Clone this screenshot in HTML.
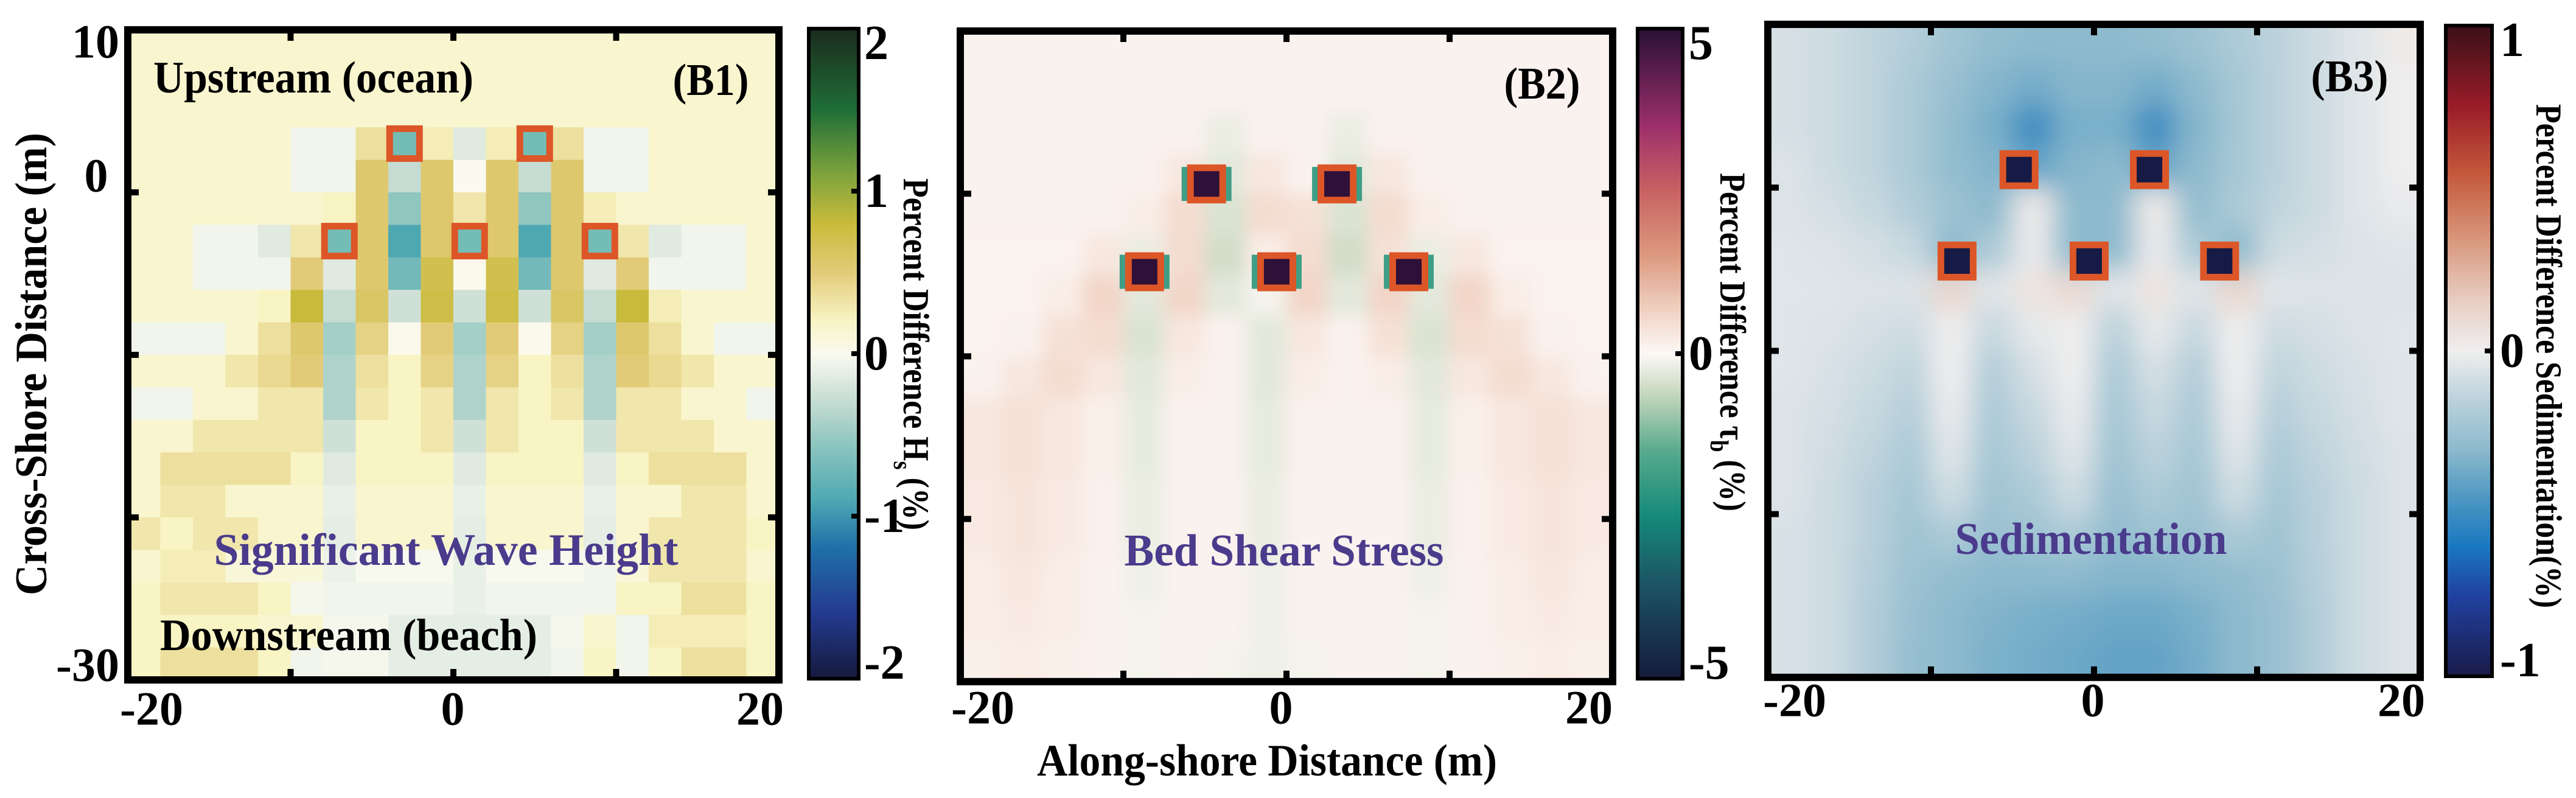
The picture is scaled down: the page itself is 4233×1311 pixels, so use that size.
<!DOCTYPE html>
<html><head><meta charset="utf-8">
<style>
html,body{margin:0;padding:0;background:#fff;}
svg{display:block;}
text{font-family:"Liberation Serif",serif;font-weight:bold;}
</style></head>
<body>
<svg id="fig" width="4233" height="1311" viewBox="0 0 4233 1311" xmlns="http://www.w3.org/2000/svg">
<defs>
<filter id="blur2" x="0" y="0" width="1" height="1"><feGaussianBlur stdDeviation="14"/></filter>
<filter id="blur3" x="0" y="0" width="1" height="1"><feGaussianBlur stdDeviation="22"/></filter>
<clipPath id="clip1"><rect x="210" y="49" width="1070" height="1068"/></clipPath>
<clipPath id="clip2"><rect x="1578" y="51" width="1072" height="1069"/></clipPath>
<clipPath id="clip3"><rect x="2905" y="40" width="1072" height="1073"/></clipPath>
</defs>
<g id="layer"></g>
</svg>
<script>
// ---------- DATA ----------
const xTicks=[-20,0,20];
const yTickLabels1=["10","0","-30"];
// B1 significant wave height % difference, 20x20 (rows y=10 -> -30, cols x=-20 -> 20)
const b1Rows=[
[.15,.15,.15,.15,.15,.15,.15,.15,.15,.15,.15,.15,.15,.15,.15,.15,.15,.15,.15,.15],
[.15,.15,.15,.15,.15,.15,.15,.15,.15,.15,.15,.15,.15,.15,.15,.15,.15,.15,.15,.15],
[.15,.15,.15,.15,.15,.15,.15,.15,.15,.15,.15,.15,.15,.15,.15,.15,.15,.15,.15,.15],
[.15,.15,.15,.15,.15,-.05,-.05,.35,-.6,.25,-.15,.25,-.6,.35,-.05,-.05,.15,.15,.15,.15],
[.15,.15,.15,.15,.15,-.05,-.05,.55,-.3,.55,0,.55,-.3,.55,-.05,-.05,.15,.15,.15,.15],
[.15,.15,.15,.15,.15,.15,.2,.55,-.55,.55,.3,.55,-.55,.55,.25,.15,.15,.15,.15,.15],
[.15,.15,-.05,-.05,-.15,.3,-.5,.55,-.9,.55,-.4,.55,-.9,.55,-.5,.3,-.15,-.05,-.05,.15],
[.15,.15,-.05,-.05,-.05,.5,-.15,.55,-.7,.7,.02,.7,-.7,.55,-.15,.5,-.05,-.05,-.05,.15],
[.15,.15,.15,.15,.2,.8,-.3,.6,-.25,.75,-.25,.75,-.25,.6,-.3,.8,.25,.15,.15,.15],
[-.05,-.05,-.05,.15,.35,.55,-.45,.45,.02,.5,-.45,.5,.02,.45,-.45,.55,.35,.15,-.05,-.05],
[.15,.15,.15,.3,.4,.5,-.4,.35,.2,.45,-.4,.45,.2,.35,-.4,.5,.4,.3,.15,.15],
[-.05,-.05,.15,.15,.3,.3,-.4,.3,.2,.3,-.4,.3,.2,.3,-.4,.3,.3,.15,.15,-.05],
[.15,.15,.3,.3,.3,.3,-.25,.2,.2,.3,-.25,.3,.2,.2,-.25,.3,.3,.3,.15,.15],
[.15,.35,.35,.35,.35,.2,-.15,.2,.2,.2,-.15,.2,.2,.2,-.15,.2,.35,.35,.35,.15],
[.15,.3,.3,.15,.15,.15,-.1,.15,.15,.15,-.1,.15,.15,.15,-.1,.15,.15,.3,.3,.15],
[.3,.2,.3,.3,.15,.15,-.12,.15,.15,.15,-.12,.15,.15,.15,-.12,.15,.3,.3,.3,.2],
[.15,.25,.25,.1,.1,.1,-.08,-.02,-.02,-.02,-.1,-.02,-.02,-.02,-.05,.1,.3,.3,.3,.15],
[.2,.3,.3,.3,.2,-.03,-.05,-.05,-.05,-.05,-.1,-.05,-.05,-.05,-.05,.2,.2,.35,.35,.2],
[.2,.2,.2,.2,.15,.15,-.03,-.03,-.12,-.12,-.12,-.12,-.12,-.03,.15,-.05,.25,.25,.25,.2],
[.2,.35,.35,.35,.2,-.05,-.03,-.03,-.12,-.12,-.12,-.12,-.12,-.05,.2,-.05,.2,.35,.35,.2]
];
// B2 bed shear stress % difference, 16x16 (2.5 m cells)
const b2Rows=[
[.1,.1,.1,.1,.1,.1,.1,.1,.1,.1,.1,.1,.1,.1,.1,.1],
[.1,.1,.1,.1,.1,.1,.1,.1,.1,.1,.1,.1,.1,.1,.1,.1],
[.1,.1,.1,.1,.1,.1,-.2,.1,.1,-.2,.1,.1,.1,.1,.1,.1],
[.1,.1,.1,.1,.1,.3,-.3,.3,.1,-.3,.3,.1,.1,.1,.1,.1],
[.1,.1,.1,.1,.2,.5,-.4,.5,.4,-.4,.5,.2,.1,.1,.1,.1],
[.08,.08,.08,.3,-.2,.5,-.5,.2,.5,-.5,.4,-.2,.3,.08,.08,.08],
[.08,.08,.2,.6,-.3,.6,-.3,-.1,.6,-.3,.6,-.3,.6,.2,.08,.08],
[.08,.1,.4,.5,-.4,.3,.1,-.3,.3,.1,.4,-.4,.5,.4,.1,.08],
[.1,.3,.5,.3,-.3,.2,.1,-.3,.2,.1,.2,-.3,.3,.5,.3,.1],
[.3,.4,.3,.15,-.25,.1,.1,-.25,.1,.1,.1,-.25,.15,.3,.4,.3],
[.3,.4,.3,.15,-.25,.1,.1,-.25,.1,.1,.1,-.25,.15,.3,.4,.3],
[.25,.35,.25,.12,-.2,.1,.1,-.2,.1,.1,.1,-.2,.12,.25,.35,.25],
[.25,.35,.25,.12,-.2,.1,.1,-.2,.1,.1,.1,-.2,.12,.25,.35,.25],
[.2,.3,.2,.1,-.15,.1,.1,-.15,.1,.1,.1,-.15,.1,.2,.3,.2],
[.2,.25,.2,.1,-.1,.1,.1,-.15,.1,.1,.1,-.1,.1,.2,.25,.2],
[.15,.2,.15,.1,-.1,.1,-.1,-.15,-.1,.1,.1,-.1,.1,.15,.2,.15]
];
// B3 sedimentation % difference, 16x16
const b3Rows=[
[-.08,-.1,-.14,-.18,-.24,-.28,-.3,-.3,-.3,-.28,-.25,-.2,-.15,-.1,-.05,.02],
[-.08,-.1,-.14,-.2,-.26,-.32,-.36,-.32,-.32,-.36,-.3,-.22,-.15,-.1,-.05,0],
[-.08,-.1,-.14,-.2,-.28,-.35,-.5,-.35,-.35,-.5,-.32,-.22,-.15,-.1,-.05,0],
[-.06,-.1,-.14,-.2,-.28,-.32,-.4,-.32,-.3,-.4,-.3,-.22,-.15,-.1,-.05,0],
[-.06,-.08,-.12,-.18,-.25,-.3,.02,-.3,-.3,.02,-.28,-.2,-.14,-.1,-.05,-.02],
[-.05,-.06,-.08,-.12,-.3,-.2,-.02,-.3,-.3,-.02,-.2,-.3,-.1,-.08,-.06,-.05],
[-.05,-.05,-.06,-.06,.12,-.05,.05,.1,-.05,.05,-.05,.12,-.05,-.06,-.06,-.06],
[-.05,-.06,-.08,-.1,0,-.12,-.03,0,-.15,-.03,-.12,0,-.1,-.08,-.06,-.05],
[-.05,-.07,-.1,-.14,0,-.18,-.08,0,-.2,-.08,-.18,0,-.14,-.1,-.07,-.05],
[-.06,-.08,-.12,-.17,-.02,-.2,-.12,-.02,-.22,-.12,-.2,-.02,-.17,-.12,-.08,-.05],
[-.06,-.09,-.14,-.2,-.05,-.22,-.15,-.05,-.24,-.15,-.22,-.05,-.2,-.14,-.09,-.06],
[-.06,-.1,-.16,-.22,-.1,-.24,-.2,-.1,-.26,-.2,-.24,-.1,-.22,-.16,-.1,-.06],
[-.07,-.1,-.16,-.24,-.2,-.26,-.24,-.2,-.28,-.25,-.26,-.2,-.24,-.16,-.1,-.06],
[-.07,-.1,-.17,-.25,-.28,-.3,-.3,-.3,-.32,-.32,-.3,-.28,-.25,-.17,-.1,-.06],
[-.07,-.1,-.18,-.26,-.3,-.33,-.35,-.36,-.38,-.38,-.35,-.3,-.26,-.18,-.1,-.06],
[-.07,-.1,-.18,-.27,-.3,-.34,-.36,-.38,-.4,-.4,-.36,-.3,-.26,-.18,-.1,-.06]
];
// structure (marker) positions in metres
const b1MarkX=[-3,5,-7,1,9];
const b1MarkY=[3,3,-3,-3,-3];
const b2MarkX=[-4.9,3.1,-8.7,-0.6,7.5];
const b2MarkY=[0.6,0.6,-4.8,-4.8,-4.8];
const b3MarkX=[-4.6,3.4,-8.4,-0.3,7.7];
const b3MarkY=[1.1,1.1,-4.5,-4.5,-4.5];
const cb1Ticks=[2,1,0,-1,-2];
const cb2Ticks=[5,0,-5];
const cb3Ticks=[1,0,-1];

// ---------- HELPERS ----------
const NS="http://www.w3.org/2000/svg";
const layer=document.getElementById('layer');
function mk(tag,attrs,parent){const e=document.createElementNS(NS,tag);for(const k in attrs)e.setAttribute(k,attrs[k]);(parent||layer).appendChild(e);return e;}
function hex(c){return [parseInt(c.substr(1,2),16),parseInt(c.substr(3,2),16),parseInt(c.substr(5,2),16)];}
function cmap(stops,v){
  if(v<=stops[0][0])return stops[0][1];
  for(let i=1;i<stops.length;i++){
    if(v<=stops[i][0]){const t=(v-stops[i-1][0])/(stops[i][0]-stops[i-1][0]);
      const a=hex(stops[i-1][1]),b=hex(stops[i][1]);
      return 'rgb('+a.map((x,j)=>Math.round(x+(b[j]-x)*t)).join(',')+')';}
  }
  return stops[stops.length-1][1];
}
const cm1=[[-2,'#16193e'],[-1.6,'#243a8e'],[-1.2,'#1f6fa8'],[-0.9,'#4ea8b2'],[-0.55,'#8fc6bf'],[-0.25,'#cfe0d6'],[0,'#fafaf0'],[0.2,'#f8f4c4'],[0.5,'#e2cb78'],[0.8,'#c8bb3c'],[1.1,'#7fa33c'],[1.5,'#1f6e38'],[2,'#1b2a1c']];
const cm2=[[-5,'#151a3c'],[-3.5,'#1c5664'],[-2.5,'#158a7a'],[-1.5,'#58aa8c'],[-0.6,'#c9d8c0'],[0,'#fcf8f5'],[0.6,'#f2d6c8'],[1.5,'#dc9a80'],[2.5,'#c86262'],[3.5,'#9c2f6c'],[5,'#2a1035']];
const cm3=[[-1,'#1a1a4a'],[-0.75,'#2042a0'],[-0.6,'#1a78c0'],[-0.45,'#4f98c2'],[-0.3,'#8dbacd'],[-0.15,'#bcd2dc'],[-0.05,'#dfe5e8'],[0,'#efeeee'],[0.15,'#e8cfc4'],[0.35,'#d79478'],[0.55,'#c3573a'],[0.75,'#9a1c28'],[1,'#3a1018']];

// axis functions
const xs1=v=>210+(v+20)*26.75, ys1=v=>49+(10-v)*26.7;
const xs2=v=>1578+(v+20)*26.8, ys2=v=>51+(10-v)*26.72;
const xs3=v=>2905+(v+20)*26.8, ys3=v=>40+(10-v)*26.82;

function heat(rows,cm,xs,ys,clip,blur,name){
  const g=mk('g',{'clip-path':'url(#'+clip+')'});
  
  
  const inner=mk('g',blur?{filter:'url(#'+blur+')'}:{},g);
  const nr=rows.length,nc=rows[0].length,dx=40/nc,dy=40/nr;
  rows.forEach((row,r)=>row.forEach((v,c)=>{
    const x0=xs(-20+c*dx),x1=xs(-20+(c+1)*dx),y0=ys(10-r*dy),y1=ys(10-(r+1)*dy);
    const pad=blur?((c==0||c==nc-1||r==0||r==nr-1)?40:0):0;
    const cell=mk('rect',{x:x0-(c==0?pad:0),y:y0-(r==0?pad:0),width:x1-x0+(c==0||c==nc-1?pad:0)+0.6,height:y1-y0+(r==0||r==nr-1?pad:0)+0.6,fill:cmap(cm,v)},inner);
    
    
  }));
  return g;
}
function markers(mx,my,xs,ys,size,inner,halo,name){
  mx.forEach((x,i)=>{
    const cx=xs(x),cy=ys(my[i]);
    if(halo){const h=mk('rect',{x:cx-size/2-9,y:cy-size/2+4,width:size+18,height:size-8,fill:halo});
      }
    const m=mk('rect',{x:cx-size/2+5.5,y:cy-size/2+5.5,width:size-11,height:size-11,fill:inner,stroke:'#dc5628','stroke-width':11});
    
    
  });
}
function frame(x0,y0,x1,y1,tx,ty,name){
  const f=mk('rect',{x:x0,y:y0,width:x1-x0,height:y1-y0,fill:'none',stroke:'#000','stroke-width':12});
  
  
  tx.forEach(x=>{mk('rect',{x:x-5,y:y0,width:10,height:18,fill:'#000'});mk('rect',{x:x-5,y:y1-18,width:10,height:18,fill:'#000'});});
  ty.forEach(y=>{mk('rect',{x:x0,y:y-5,width:18,height:10,fill:'#000'});mk('rect',{x:x1-18,y:y-5,width:18,height:10,fill:'#000'});});
}
function txt(s,x,y,opts,name){
  const a={x:x,y:y,'font-size':opts.size||78,'text-anchor':opts.anchor||'middle','dominant-baseline':'central',fill:opts.fill||'#000'};
  if(opts.len){a.textLength=opts.len;a.lengthAdjust='spacingAndGlyphs';}
  if(opts.rot){a.transform='rotate('+opts.rot+' '+x+' '+y+')';}
  const t=mk('text',a);
  if(opts.sub){t.appendChild(document.createTextNode(s[0]));
    const ts=mk('tspan',{'baseline-shift':'sub','font-size':(opts.size||78)*0.7},t);ts.textContent=s[1];
    t.appendChild(document.createTextNode(s[2]));}
  else t.textContent=s;
  
  
  return t;
}
function colorbar(id,cm,x0,x1,y0,y1,vmax,ticks,lx,name){
  const grad=mk('linearGradient',{id:id,x1:0,y1:0,x2:0,y2:1},document.querySelector('defs'));
  for(let i=0;i<=40;i++){const v=vmax-2*vmax*i/40;mk('stop',{offset:(i/40),'stop-color':cmap(cm,v)},grad);}
  const r=mk('rect',{x:x0,y:y0,width:x1-x0,height:y1-y0,fill:'url(#'+id+')',stroke:'#000','stroke-width':6});
  
  
  ticks.forEach(v=>{const y=y0+(vmax-v)/(2*vmax)*(y1-y0);
    if(Math.abs(v)<vmax)mk('rect',{x:x1-12,y:y-4,width:12,height:8,fill:'#000'});
    const yy=Math.min(Math.max(y,y0+24),y1-26);
    txt(String(v),lx,yy,{anchor:'start',size:80},name+'-tick-label');});
}

// ---------- PANEL B1 ----------
heat(b1Rows,cm1,xs1,ys1,'clip1',null,'b1-heatmap');
markers(b1MarkX,b1MarkY,xs1,ys1,60,'#74bdb6',null,'b1-structure');
frame(xs1(-20),ys1(10),xs1(20),ys1(-30),[xs1(-10),xs1(0),xs1(10)],[ys1(0),ys1(-10),ys1(-20)],'b1-frame');
txt('10',196,68,{anchor:'end'},'y-tick-label');
txt('0',158,288,{},'y-tick-label');
txt('-30',196,1092,{anchor:'end'},'y-tick-label');
txt('-20',249,1164,{},'x-tick-label');txt('0',744,1164,{},'x-tick-label');txt('20',1249,1164,{},'x-tick-label');
txt('Cross-Shore Distance (m)',52,598,{rot:-90,len:760,size:74},'y-axis-title');
txt('Upstream (ocean)',252,128,{anchor:'start',len:526,size:74},'upstream-label');
txt('(B1)',1168,132,{len:125,size:74},'panel-label-b1');
txt('Significant Wave Height',733,904,{len:763,size:74,fill:'#4a3b8c'},'b1-title');
txt('Downstream (beach)',263,1044,{anchor:'start',len:620,size:74},'downstream-label');
colorbar('g1',cm1,1329,1411,47,1115,2,cb1Ticks,1420,'b1-colorbar');
txt(['Percent Difference H','s',' (%)'],1505,582,{rot:90,len:578,size:60,sub:true},'b1-colorbar-title');

// ---------- PANEL B2 ----------
heat(b2Rows,cm2,xs2,ys2,'clip2','blur2','b2-heatmap');
markers(b2MarkX,b2MarkY,xs2,ys2,64,'#2e1038','#3e9e86','b2-structure');
frame(xs2(-20),ys2(10),xs2(20),ys2(-30),[xs2(-10),xs2(0),xs2(10)],[ys2(0),ys2(-10),ys2(-20)],'b2-frame');
txt('-20',1615,1162,{},'x-tick-label');txt('0',2105,1162,{},'x-tick-label');txt('20',2611,1162,{},'x-tick-label');
txt('(B2)',2534,138,{len:125,size:74},'panel-label-b2');
txt('Bed Shear Stress',2110,905,{len:525,size:74,fill:'#4a3b8c'},'b2-title');
txt('Along-shore Distance (m)',2082,1250,{len:756,size:74},'x-axis-title');
colorbar('g2',cm2,2691,2765,47,1115,5,cb2Ticks,2775,'b2-colorbar');
txt(['Percent Difference τ','b',' (%)'],2847,562,{rot:90,len:556,size:60,sub:true},'b2-colorbar-title');

// ---------- PANEL B3 ----------
heat(b3Rows,cm3,xs3,ys3,'clip3','blur3','b3-heatmap');
markers(b3MarkX,b3MarkY,xs3,ys3,64,'#161a45',null,'b3-structure');
frame(xs3(-20),ys3(10),xs3(20),ys3(-30),[xs3(-10),xs3(0),xs3(10)],[ys3(0),ys3(-10),ys3(-20)],'b3-frame');
txt('-20',2949,1150,{},'x-tick-label');txt('0',3439,1150,{},'x-tick-label');txt('20',3946,1150,{},'x-tick-label');
txt('(B3)',3861,126,{len:127,size:74},'panel-label-b3');
txt('Sedimentation',3436,886,{len:447,size:74,fill:'#4a3b8c'},'b3-title');
colorbar('g3',cm3,4019,4095,42,1111,1,cb3Ticks,4108,'b3-colorbar');
txt('Percent Difference Sedimentation(%)',4188,585,{rot:90,len:828,size:60},'b3-colorbar-title');
</script>
</body></html>
